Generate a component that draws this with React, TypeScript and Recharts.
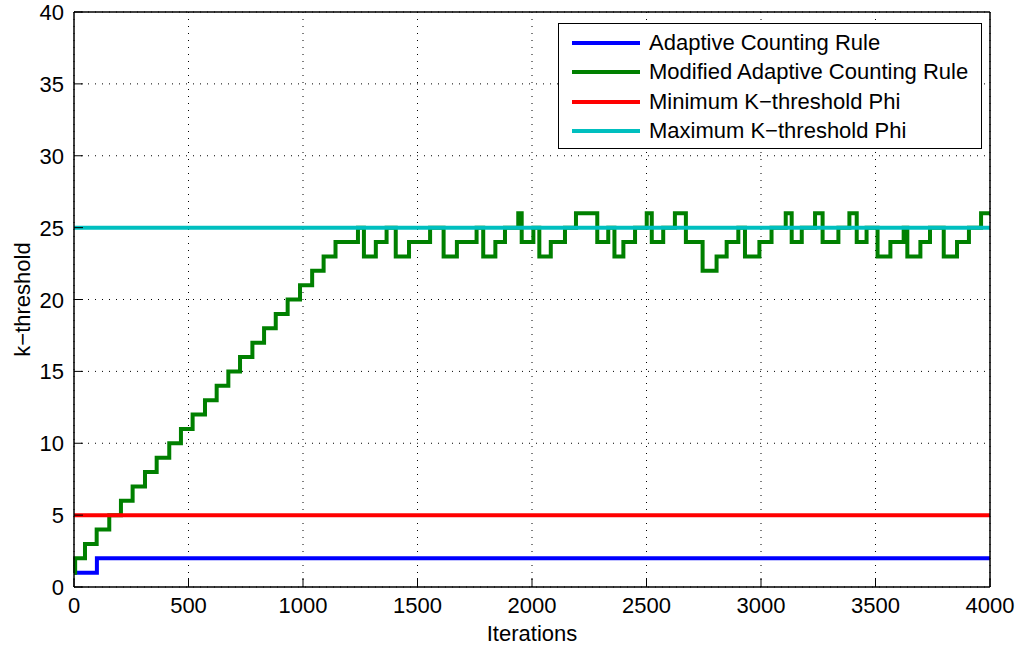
import React from 'react';
import { LineChart, Line, XAxis, YAxis, CartesianGrid, Legend } from 'recharts';

// axis ticks
const xTicks = [0, 500, 1000, 1500, 2000, 2500, 3000, 3500, 4000];
const yTicks = [0, 5, 10, 15, 20, 25, 30, 35, 40];

// Adaptive Counting Rule (blue)
const acrIters = [0, 100, 4000];
const acrValues = [1, 2, 2];

// Modified Adaptive Counting Rule (green), change points
const macrIters = [
  0, 5, 48, 99, 154, 205, 256, 310, 361, 416, 467, 518, 572, 623, 674, 725, 779, 830, 881, 933,
  987, 1040, 1090, 1142, 1240, 1266, 1318, 1365, 1405, 1463, 1555, 1614, 1672, 1758, 1787, 1840,
  1882, 1940, 1955, 2006, 2032, 2082, 2144, 2192, 2285, 2333, 2360, 2399, 2450, 2501, 2523, 2573,
  2624, 2672, 2745, 2806, 2850, 2901, 2930, 2993, 3046, 3108, 3134, 3178, 3236, 3269, 3338, 3386,
  3418, 3461, 3509, 3565, 3623, 3639, 3696, 3738, 3798, 3856, 3908, 3961, 4000,
];
const macrValues = [
  1, 2, 3, 4, 5, 6, 7, 8, 9, 10, 11, 12, 13, 14, 15, 16, 17, 18, 19, 20,
  21, 22, 23, 24, 25, 23, 24, 25, 23, 24, 25, 23, 24, 25, 23, 24,
  25, 26, 24, 25, 23, 24, 25, 26, 24, 25, 23, 24, 25, 26, 24, 25,
  26, 24, 22, 23, 24, 25, 23, 24, 25, 26, 24, 25, 26, 24, 25, 26,
  24, 25, 23, 24, 25, 23, 24, 25, 23, 24, 25, 26, 26,
];

// Minimum / Maximum K-threshold Phi
const minPhiIters = [0, 4000];
const minPhiValues = [5, 5];
const maxPhiIters = [0, 4000];
const maxPhiValues = [25, 25];

const seriesNames = [
  'Adaptive Counting Rule',
  'Modified Adaptive Counting Rule',
  'Minimum K\u2212threshold Phi',
  'Maximum K\u2212threshold Phi',
];
const seriesColors = ['#0000ff', '#008000', '#ff0000', '#00bfbf'];

const toRows = (xs: number[], ys: number[]) => xs.map((x, i) => ({ it: x, k: ys[i] }));
const seriesData = [
  toRows(acrIters, acrValues),
  toRows(macrIters, macrValues),
  toRows(minPhiIters, minPhiValues),
  toRows(maxPhiIters, maxPhiValues),
];

const FONT = '"Liberation Sans", Arial, Helvetica, sans-serif';
const TICK = 9;

// MATLAB style: ticks point inward
const BottomTick = ({ x, y, payload }: any) => (
  <g>
    <line x1={x} y1={y} x2={x} y2={y - TICK} stroke="#000" />
    <text x={x} y={y + 26} textAnchor="middle" fontSize={22} fontFamily={FONT} fill="#000">
      {payload.value}
    </text>
  </g>
);
const TopTick = ({ x, y }: any) => <line x1={x} y1={y} x2={x} y2={y + TICK} stroke="#000" />;
const LeftTick = ({ x, y, payload }: any) => (
  <g>
    <line x1={x} y1={y} x2={x + TICK} y2={y} stroke="#000" />
    <text x={x - 10} y={y + 8} textAnchor="end" fontSize={22} fontFamily={FONT} fill="#000">
      {payload.value}
    </text>
  </g>
);
const RightTick = ({ x, y }: any) => <line x1={x} y1={y} x2={x - TICK} y2={y} stroke="#000" />;

const LegendBox = () => (
  <div
    style={{
      border: '1.3px solid #000',
      background: '#fff',
      width: 424,
      height: 126,
      boxSizing: 'border-box',
      fontFamily: FONT,
      fontSize: 22,
      color: '#000',
      paddingTop: 4,
    }}
  >
    {seriesNames.map((n, i) => (
      <div key={n} style={{ display: 'flex', alignItems: 'center', height: 29.5, whiteSpace: 'nowrap' }}>
        <span
          style={{
            display: 'inline-block',
            width: 68,
            height: 4,
            background: seriesColors[i],
            marginLeft: 13,
            marginRight: 9,
          }}
        />
        <span>{n}</span>
      </div>
    ))}
  </div>
);

export default function App() {
  return (
    <div style={{ position: 'absolute', left: 0, top: 0, background: '#fff' }}>
      <LineChart width={1021} height={648} margin={{ top: 11, right: 30, bottom: 0, left: 0 }}>
        <CartesianGrid stroke="#000" strokeDasharray="1 6" strokeWidth={1} />
        <XAxis
          dataKey="it"
          type="number"
          domain={[0, 4000]}
          ticks={xTicks}
          interval={0}
          height={61}
          tickSize={0}
          tickMargin={0}
          tickLine={false}
          tick={<BottomTick />}
          axisLine={{ stroke: '#000', strokeWidth: 1.5 }}
          label={{
            content: ({ viewBox }: any) => (
              <text
                x={viewBox.x + viewBox.width / 2}
                y={viewBox.y + 54}
                textAnchor="middle"
                fontSize={22}
                fontFamily={FONT}
                fill="#000"
              >
                Iterations
              </text>
            ),
          }}
        />
        <XAxis
          xAxisId="top"
          orientation="top"
          dataKey="it"
          type="number"
          domain={[0, 4000]}
          ticks={xTicks}
          interval={0}
          height={1}
          tickSize={0}
          tickMargin={0}
          tickLine={false}
          tick={<TopTick />}
          axisLine={{ stroke: '#000', strokeWidth: 1.5 }}
        />
        <YAxis
          type="number"
          domain={[0, 40]}
          ticks={yTicks}
          interval={0}
          width={74}
          tickSize={0}
          tickMargin={0}
          tickLine={false}
          tick={<LeftTick />}
          axisLine={{ stroke: '#000', strokeWidth: 1.5 }}
          label={{
            content: ({ viewBox }: any) => {
              const cx = viewBox.x + 22;
              const cy = viewBox.y + viewBox.height / 2;
              return (
                <text
                  x={cx}
                  y={cy}
                  transform={`rotate(-90, ${cx}, ${cy})`}
                  textAnchor="middle"
                  dominantBaseline="central"
                  fontSize={22}
                  fontFamily={FONT}
                  fill="#000"
                >
                  k{'\u2212'}threshold
                </text>
              );
            },
          }}
        />
        <YAxis
          yAxisId="right"
          orientation="right"
          type="number"
          domain={[0, 40]}
          ticks={yTicks}
          interval={0}
          width={1}
          tickSize={0}
          tickMargin={0}
          tickLine={false}
          tick={<RightTick />}
          axisLine={{ stroke: '#000', strokeWidth: 1.5 }}
        />
        {seriesNames.map((name, i) => (
          <Line
            key={name}
            name={name}
            data={seriesData[i]}
            dataKey="k"
            type="stepAfter"
            stroke={seriesColors[i]}
            strokeWidth={4}
            dot={false}
            activeDot={false}
            isAnimationActive={false}
          />
        ))}
        <Legend
          layout="horizontal"
          verticalAlign="middle"
          align="center"
          content={<LegendBox />}
          wrapperStyle={{ top: 23, left: 558, width: 424, height: 126 }}
        />
      </LineChart>
    </div>
  );
}
